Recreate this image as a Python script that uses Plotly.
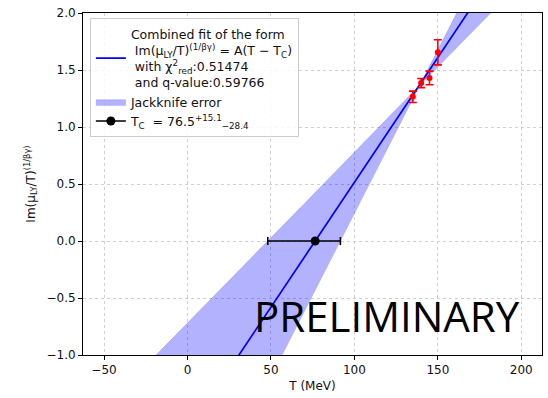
import numpy as np
import plotly.graph_objects as go

# data
T_data = [135, 140, 145, 150]
y_data = [1.265, 1.385, 1.43, 1.655]
y_err = [0.05, 0.04, 0.06, 0.11]

Tc = 76.5
Tc_plus = 15.1
Tc_minus = 28.4
A_fit = 0.0219
# jackknife band edges: lines y = slope*(T - Tc_edge)
band_Tc = [48.1, 91.6]
band_slope = [0.01495, 0.0287]

x_range = [-62.6, 212.4]
y_range = [-1.0, 2.0]
x_ticks = [-50, 0, 50, 100, 150, 200]
y_ticks = [-1.0, -0.5, 0.0, 0.5, 1.0, 1.5, 2.0]

Tgrid = np.linspace(x_range[0], x_range[1], 400)
l1 = band_slope[0] * (Tgrid - band_Tc[0])
l2 = band_slope[1] * (Tgrid - band_Tc[1])
upper = np.maximum(l1, l2)
lower = np.minimum(l1, l2)
fit = A_fit * (Tgrid - Tc)

fig = go.Figure()

fig.add_trace(go.Scatter(x=Tgrid, y=fit, mode="lines",
                         line=dict(color="#0000ff", width=1.7),
                         name="Combined fit of the form<br> Im(μ<sub>LY</sub>/T)<sup>(1/βγ)</sup> = A(T − T<sub>C</sub>)<br> with χ<sup>2</sup><sub>red</sub>:0.51474<br> and q-value:0.59766"))
fig.add_trace(go.Scatter(x=Tgrid, y=lower, mode="lines", line=dict(width=0),
                         showlegend=False, hoverinfo="skip"))
fig.add_trace(go.Scatter(x=Tgrid, y=upper, mode="lines", line=dict(width=0.5, color="rgba(0,0,255,0.3)"),
                         fill="tonexty", fillcolor="rgba(0,0,255,0.3)",
                         name="Jackknife error"))
fig.add_trace(go.Scatter(x=[Tc], y=[0], mode="lines+markers",
                         marker=dict(color="black", size=9),
                         line=dict(color="black", width=1.6),
                         error_x=dict(type="data", symmetric=False, array=[Tc_plus], arrayminus=[Tc_minus],
                                      color="black", thickness=1.6, width=4),
                         name="T<sub>C</sub>  = 76.5<sup>+15.1</sup><sub>−28.4</sub>"))
fig.add_trace(go.Scatter(x=T_data, y=y_data, mode="markers",
                         marker=dict(color="red", size=6),
                         error_y=dict(type="data", array=y_err, color="red", thickness=1.6, width=4),
                         showlegend=False))

fig.add_annotation(text="PRELIMINARY", xref="paper", yref="paper",
                   x=(252 - 83) / 459, y=(355 - 346) / 342, xanchor="left", yanchor="bottom",
                   showarrow=False, font=dict(family="Open Sans", size=42, color="black"))

axis_common = dict(showline=True, linecolor="black", linewidth=1, mirror=True,
                   ticks="outside", ticklen=4, tickcolor="black",
                   showgrid=True, gridcolor="#cfcfcf", griddash="dot", gridwidth=1,
                   zeroline=False, tickfont=dict(family="DejaVu Sans", size=12, color="#111"))

fig.update_xaxes(range=x_range, tickvals=x_ticks, ticktext=["−50", "0", "50", "100", "150", "200"],
                 title=dict(text="T (MeV)", font=dict(family="DejaVu Sans", size=12, color="#111"), standoff=5),
                 **axis_common)
fig.update_yaxes(range=y_range, tickvals=y_ticks,
                 ticktext=["−1.0", "−0.5", "0.0", "0.5", "1.0", "1.5", "2.0"],
                 title=dict(text="Im(μ<sub>LY</sub>/T)<sup>(1/βγ)</sup>", font=dict(family="DejaVu Sans", size=12, color="#111"), standoff=8),
                 **axis_common)

fig.update_layout(
    width=548, height=398,
    margin=dict(l=83, r=6, t=13, b=43),
    plot_bgcolor="white", paper_bgcolor="white",
    font=dict(family="DejaVu Sans", size=12, color="#111"),
    legend=dict(x=0.015, y=0.985, xanchor="left", yanchor="top", traceorder="normal",
                bgcolor="rgba(255,255,255,0.85)", bordercolor="#cccccc", borderwidth=1,
                font=dict(family="DejaVu Sans", size=12.5, color="#111"),
                tracegroupgap=2, itemwidth=30),
)

fig.write_html("out.html")
